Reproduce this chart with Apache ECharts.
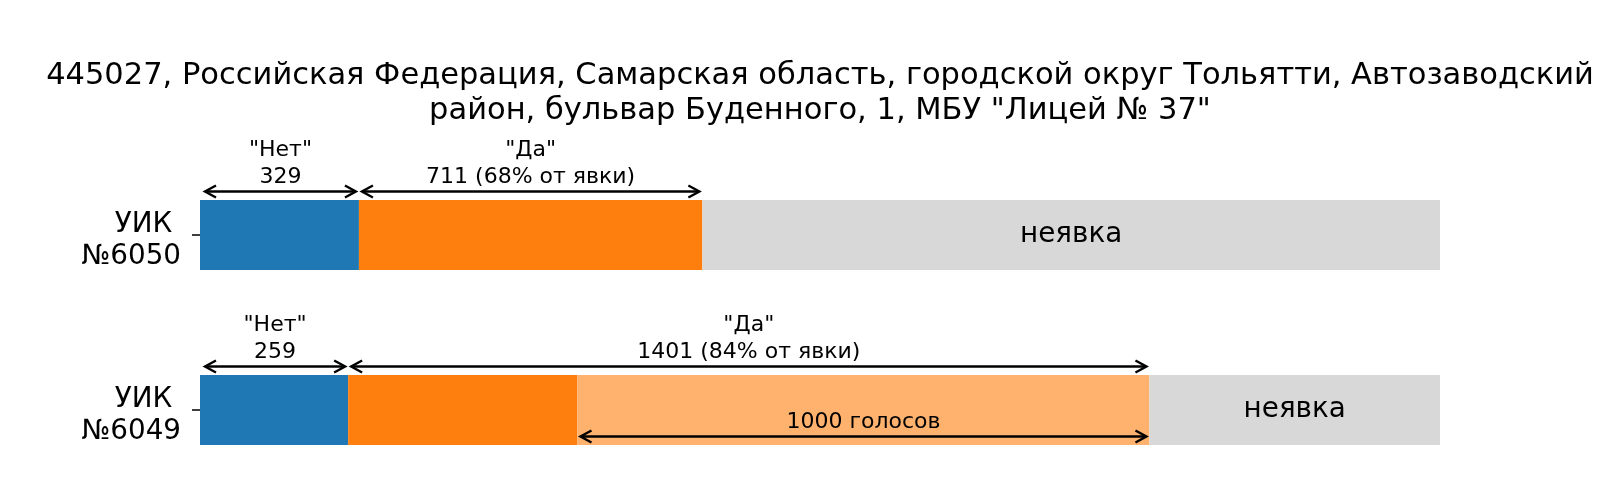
<!DOCTYPE html>
<html>
<head>
<meta charset="utf-8">
<script src="https://cdn.jsdelivr.net/npm/echarts@6/dist/echarts.min.js"></script>
<style>html,body{margin:0;padding:0;background:#fff}#c{width:1600px;height:480px}</style>
</head>
<body>
<div id="c"></div>
<script>
// Data (bottom-to-top category order)
const categories = ['УИК \n№6049', 'УИК \n№6050'];
const registered = [2168, 2567];   // registered voters
const noVotes = [259, 329];        // "Нет"
const yesVotes = [1401, 711];      // "Да"
const yesPctOfTurnout = [84, 68];  // % от явки
const highlightVotes = [1000, 0];  // "1000 голосов" part of "Да"
const titleText = '445027, Российская Федерация, Самарская область, городской округ Тольятти, Автозаводский\nрайон, бульвар Буденного, 1, МБУ "Лицей № 37"';

const FONT = 'DejaVu Sans';
const frac = (v, i) => v / registered[i];
const noFrac = noVotes.map(frac);
const yesMainFrac = yesVotes.map((v, i) => frac(v - highlightVotes[i], i));
const yesHiFrac = highlightVotes.map(frac);
const absentFrac = registered.map((r, i) => 1 - frac(noVotes[i] + yesVotes[i], i));

// annotations: [x0, x1, categoryIndex]
const annots = [];
const annotMeta = [];
categories.forEach((c, i) => {
  const n = noVotes[i] / registered[i];
  const y = (noVotes[i] + yesVotes[i]) / registered[i];
  annots.push([0, n, i]); annotMeta.push({ text: '"Нет"\n' + noVotes[i], inside: false });
  annots.push([n, y, i]); annotMeta.push({ text: '"Да"\n' + yesVotes[i] + ' (' + yesPctOfTurnout[i] + '% от явки)', inside: false });
  if (highlightVotes[i] > 0) {
    annots.push([(noVotes[i] + yesVotes[i] - highlightVotes[i]) / registered[i], y, i]);
    annotMeta.push({ text: highlightVotes[i] + ' голосов', inside: true });
  }
});

function renderArrow(params, api) {
  const meta = annotMeta[params.dataIndex];
  const p0 = api.coord([api.value(0), api.value(2)]);
  const p1 = api.coord([api.value(1), api.value(2)]);
  const band = api.size([0, 1])[1];
  const barH = band * 0.4;
  const cy = p0[1];
  const ay = meta.inside ? cy + barH / 2 - 8.5 : cy - barH / 2 - 8.5;
  const x0 = p0[0] + (api.value(0) === 0 ? 5 : 3), x1 = p1[0] - 3;
  const hl = 11, hw = 6;
  const st = { stroke: '#000', lineWidth: 2.4, fill: null, lineJoin: 'miter' };
  return {
    type: 'group',
    children: [
      { type: 'line', shape: { x1: x0 + 1, y1: ay, x2: x1 - 1, y2: ay }, style: st },
      { type: 'polyline', shape: { points: [[x0 + hl, ay - hw], [x0, ay], [x0 + hl, ay + hw]] }, style: st },
      { type: 'polyline', shape: { points: [[x1 - hl, ay - hw], [x1, ay], [x1 - hl, ay + hw]] }, style: st },
      { type: 'text', style: { text: meta.text, x: (x0 + x1) / 2, y: ay - 1, align: 'center', verticalAlign: 'bottom',
          fontFamily: FONT, fontSize: 22, lineHeight: 26.5, fill: '#000' } }
    ]
  };
}

const labelStyle = { fontFamily: FONT, fontSize: 27.8, lineHeight: 31.6, color: '#000', align: 'right' };

const chart = echarts.init(document.getElementById('c'), null, { renderer: 'canvas' });
const barBase = { type: 'bar', stack: 'total', barWidth: '40%', animation: false, silent: true };
chart.setOption({
  animation: false,
  title: {
    text: titleText, left: 820, top: 59, padding: 0, textAlign: 'center',
    textStyle: { fontFamily: FONT, fontSize: 30.5, fontWeight: 'normal', color: '#000', lineHeight: 34.7 }
  },
  grid: { left: 200, right: 160, top: 147.5, height: 350, outerBoundsMode: 'none', containLabel: false },
  xAxis: { type: 'value', min: 0, max: 1, show: false },
  yAxis: {
    type: 'category', data: categories,
    axisLine: { show: false },
    axisTick: { show: true, alignWithLabel: true, length: 8, lineStyle: { color: '#000', width: 1.5 } },
    axisLabel: Object.assign({}, labelStyle, {
      margin: 19,
      formatter: v => { const l = v.split('\n'); return '{a|' + l[0] + '}\n{b|' + l[1] + '}'; },
      rich: {
        a: Object.assign({}, labelStyle, { padding: [12, 0, 0, 0] }),
        b: Object.assign({}, labelStyle, { padding: [12, 0, 0, 0] })
      }
    })
  },
  series: [
    Object.assign({}, barBase, { name: 'Нет', data: noFrac, itemStyle: { color: '#1f77b4' } }),
    Object.assign({}, barBase, { name: 'Да', data: yesMainFrac, itemStyle: { color: '#ff7f0e' } }),
    Object.assign({}, barBase, { name: '1000', data: yesHiFrac, itemStyle: { color: '#ffb26e' } }),
    Object.assign({}, barBase, { name: 'неявка', data: absentFrac, itemStyle: { color: '#d8d8d8' },
      label: { show: true, position: 'inside', formatter: 'неявка', fontFamily: FONT, fontSize: 27.8, color: '#000' } }),
    { type: 'custom', renderItem: renderArrow, data: annots, encode: { x: [0, 1], y: 2 }, silent: true, z: 5, clip: false }
  ]
});
</script>
</body>
</html>
